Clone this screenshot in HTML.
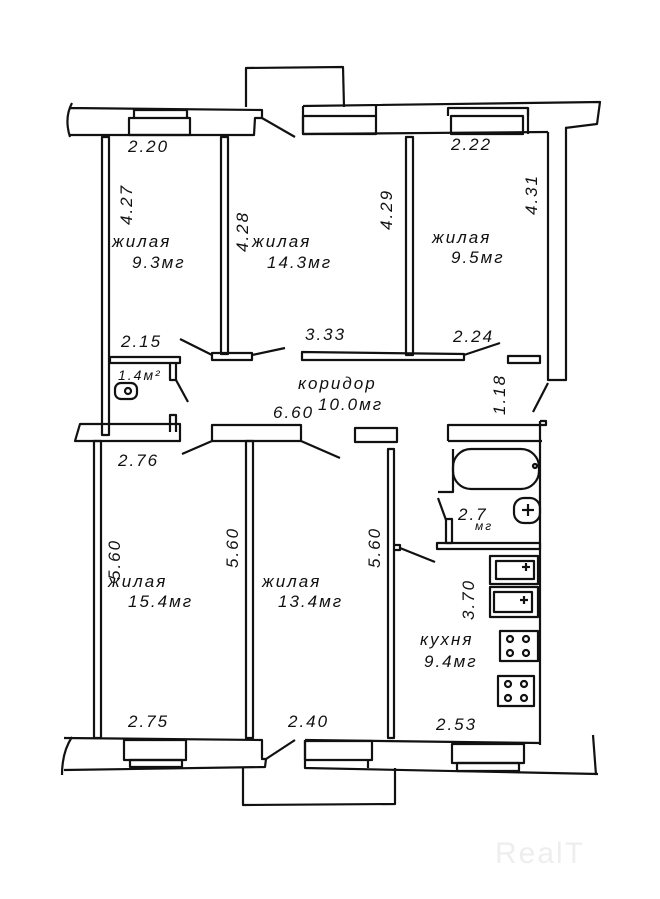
<!DOCTYPE html>
<html><head><meta charset="utf-8"><style>
html,body{margin:0;padding:0;background:#fff;}
svg{display:block}
text{font-family:"Liberation Sans",sans-serif;font-style:italic;font-size:17px;fill:#111;letter-spacing:2px}
</style></head><body>
<svg width="660" height="899" viewBox="0 0 660 899" xmlns="http://www.w3.org/2000/svg">
<g fill="none" stroke="#111" stroke-width="2.2" stroke-linejoin="round">
<polyline points="246,107 246,68 343,67 344,107"/>
<path d="M72,103 Q64,118 70,137 M70,108 L262,110 L262,118 L255,118 L254,135 L70,135"/>
<rect x="129" y="118" width="61" height="17"/><polyline points="134,118 134,110 187,110 187,118"/>
<line x1="262" y1="118" x2="295" y2="137"/>
<path d="M303,106 L600,102 L597,124 L565,128 M303,106 L303,134 L548,132"/>
<rect x="303" y="116" width="73" height="18"/><line x1="376" y1="106" x2="376" y2="116"/>
<rect x="451" y="116" width="72" height="18"/><polyline points="448,116 448,108 528,108 528,116"/>
<line x1="528" y1="108" x2="528" y2="134"/>
<polyline points="548,132 548,380 566,380 566,128"/>
<line x1="548" y1="383" x2="533" y2="412"/>
<rect x="102" y="137" width="7" height="298"/>
<rect x="221" y="137" width="7" height="217"/>
<rect x="406" y="137" width="7" height="218"/>
<rect x="212" y="353" width="40" height="7"/>
<polyline points="302,356 302,352 464,354 464,360 302,360 302,356"/>
<rect x="508" y="356" width="32" height="7"/>
<line x1="180" y1="339" x2="212" y2="355"/><line x1="252" y1="355" x2="285" y2="348"/><line x1="464" y1="355" x2="500" y2="343"/>
<rect x="110" y="357" width="70" height="6"/>
<polyline points="170,363 170,380 176,380 176,363"/>
<line x1="176" y1="380" x2="188" y2="402"/>
<polyline points="170,432 170,415 176,415 176,432"/>
<rect x="115" y="383" width="22" height="16" rx="6"/><circle cx="128" cy="391" r="3"/>
<path d="M80,424 L180,424 L180,441 L75,441 Z"/>
<rect x="212" y="425" width="89" height="16"/>
<rect x="355" y="428" width="42" height="14"/>
<line x1="301" y1="441" x2="340" y2="458"/>
<line x1="212" y1="441" x2="182" y2="454"/>
<polyline points="448,441 448,425 546,425 546,421 540,421"/>
<line x1="448" y1="441" x2="542" y2="441"/>
<rect x="453" y="449" width="86" height="40" rx="18"/>
<circle cx="535" cy="466" r="2"/>
<polyline points="453,449 453,492 438,492"/>
<rect x="514" y="498" width="26" height="25" rx="10"/>
<line x1="528" y1="504" x2="528" y2="516"/><line x1="522" y1="510" x2="534" y2="510"/>
<line x1="438" y1="498" x2="446" y2="520"/>
<rect x="446" y="519" width="6" height="24"/>
<rect x="437" y="543" width="103" height="6"/>
<polyline points="540,421 540,745 M565,421 565,740 593,742"/>
<line x1="593" y1="735" x2="596" y2="775"/>
<rect x="490" y="556" width="48" height="28"/><rect x="496" y="561" width="38" height="18"/>
<rect x="490" y="587" width="48" height="30"/><rect x="494" y="592" width="38" height="20"/>
<line x1="522" y1="567" x2="530" y2="567"/><line x1="526" y1="563" x2="526" y2="571"/>
<line x1="520" y1="600" x2="528" y2="600"/><line x1="524" y1="596" x2="524" y2="604"/>
<rect x="500" y="631" width="38" height="30"/>
<rect x="498" y="676" width="36" height="30"/>
<circle cx="510" cy="639" r="3"/><circle cx="526" cy="639" r="3"/><circle cx="510" cy="653" r="3"/><circle cx="526" cy="653" r="3"/>
<circle cx="508" cy="684" r="3"/><circle cx="524" cy="684" r="3"/><circle cx="508" cy="698" r="3"/><circle cx="524" cy="698" r="3"/>
<rect x="94" y="441" width="7" height="297"/>
<rect x="246" y="441" width="7" height="297"/>
<rect x="388" y="449" width="6" height="289"/>
<polyline points="394,545 400,545 400,550 394,550"/><line x1="400" y1="548" x2="435" y2="562"/>
<path d="M72,737 Q62,752 62,775 M64,738 L262,740 L262,759 L266,759 L265,767 L64,770"/>
<line x1="266" y1="759" x2="295" y2="740"/>
<path d="M305,740 L540,743 M305,740 L305,768 L598,774"/>
<rect x="124" y="740" width="62" height="20"/><rect x="130" y="760" width="52" height="7"/>
<rect x="305" y="741" width="67" height="19"/><line x1="368" y1="760" x2="368" y2="768"/>
<rect x="452" y="744" width="72" height="19"/><rect x="457" y="763" width="62" height="8"/>
<polyline points="243,768 243,805 395,804 395,768"/>
</g>
<g>
<text x="128" y="152">2.20</text>
<text x="451" y="150">2.22</text>
<text x="121" y="347">2.15</text>
<text x="305" y="340">3.33</text>
<text x="453" y="342">2.24</text>
<text x="112" y="247">жилая</text><text x="132" y="268">9.3мг</text>
<text x="252" y="247">жилая</text><text x="267" y="268">14.3мг</text>
<text x="432" y="243">жилая</text><text x="451" y="263">9.5мг</text>
<text x="298" y="389">коридор</text><text x="318" y="410">10.0мг</text>
<text x="273" y="418">6.60</text>
<text x="118" y="380" style="font-size:14px">1.4м²</text>
<text x="118" y="466">2.76</text>
<text x="108" y="587">жилая</text><text x="128" y="607">15.4мг</text>
<text x="262" y="587">жилая</text><text x="278" y="607">13.4мг</text>
<text x="458" y="520">2.7</text><text x="475" y="530" style="font-size:12px">мг</text>
<text x="420" y="645">кухня</text><text x="424" y="667">9.4мг</text>
<text x="128" y="727">2.75</text>
<text x="288" y="727">2.40</text>
<text x="436" y="730">2.53</text>
<text transform="translate(132,225) rotate(-90)">4.27</text>
<text transform="translate(248,252) rotate(-90)">4.28</text>
<text transform="translate(392,230) rotate(-90)">4.29</text>
<text transform="translate(537,215) rotate(-90)">4.31</text>
<text transform="translate(505,415) rotate(-90)">1.18</text>
<text transform="translate(120,580) rotate(-90)">5.60</text>
<text transform="translate(238,568) rotate(-90)">5.60</text>
<text transform="translate(380,568) rotate(-90)">5.60</text>
<text transform="translate(474,620) rotate(-90)">3.70</text>
<text x="495" y="863" style="font-size:30px;fill:#eee;font-style:normal">RealT</text>
</g>
</svg>
</body></html>
